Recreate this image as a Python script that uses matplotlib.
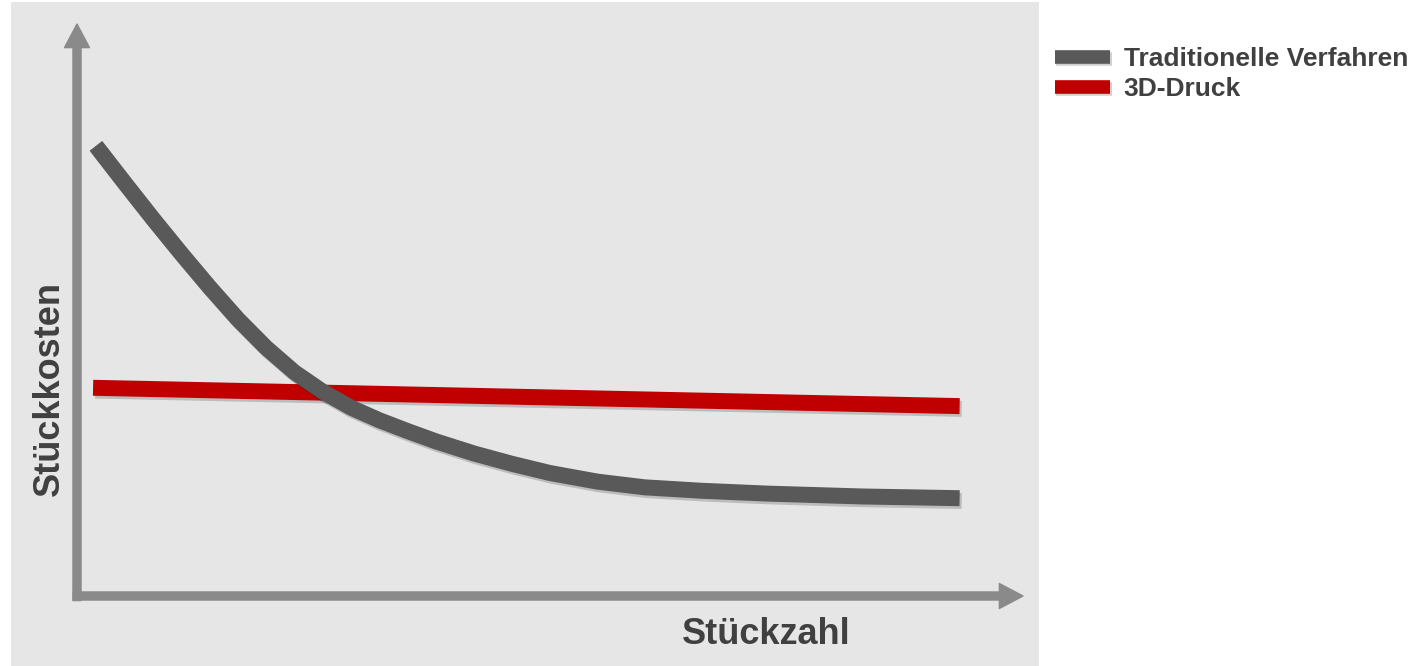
import matplotlib.pyplot as plt
import matplotlib.patheffects as pe
from matplotlib.lines import Line2D
from matplotlib.patches import Rectangle

# Stückzahl (x) and Stückkosten (y), arbitrary units 0..100
stueckzahl = [2, 5, 8, 11, 14, 17, 20, 23, 26, 29, 32, 35, 38, 42, 46, 50,
              55, 60, 66, 73, 83, 93.3]
kosten_traditionell = [78.7, 72.3, 66.0, 59.9, 54.0, 48.4, 43.4, 39.1, 35.7,
                       32.9, 30.7, 28.8, 27.0, 24.9, 23.1, 21.5, 20.0, 19.0,
                       18.4, 17.9, 17.4, 17.1]
stueckzahl_druck = [1.7, 93.3]
kosten_druck = [36.4, 33.2]

labels = ["Traditionelle Verfahren", "3D-Druck"]
colors = ["#595959", "#c00000"]
text_color = "#404040"
axis_color = "#8a8a8a"

plt.rcParams["font.family"] = ["Liberation Sans", "DejaVu Sans"]

W, H = 1424, 666
fig = plt.figure(figsize=(W / 100, H / 100), dpi=100)

# grey panel behind the chart
fig.patches.append(Rectangle((11 / W, 0), 1028 / W, 664 / H,
                             transform=fig.transFigure, facecolor="#e6e6e6",
                             edgecolor="none", zorder=0))

# axes frame spans from the axis corner to the arrow tips
ax = fig.add_axes([77 / W, (H - 596) / H, 946 / W, 572 / H])
ax.set_zorder(2)
ax.set_xlim(0, 100)
ax.set_ylim(0, 100)
ax.set_facecolor("none")
ax.axis("off")

shadow = [pe.SimpleLineShadow(offset=(1.5, -2), shadow_color="#000000",
                              alpha=0.18), pe.Normal()]

ax.plot(stueckzahl_druck, kosten_druck, color=colors[1], lw=11.5,
        solid_capstyle="butt", path_effects=shadow, zorder=3)
ax.plot(stueckzahl, kosten_traditionell, color=colors[0], lw=11.5,
        solid_capstyle="butt", solid_joinstyle="round",
        path_effects=shadow, zorder=4)

# axis arrows
arrow = dict(arrowstyle="simple,head_length=17,head_width=18,tail_width=5.8",
             mutation_scale=1, color=axis_color, shrinkA=0, shrinkB=0)
ax.annotate("", xy=(0, 1), xytext=(0, -0.008), xycoords="axes fraction",
            arrowprops=arrow, annotation_clip=False)
ax.annotate("", xy=(1, 0), xytext=(-0.004, 0), xycoords="axes fraction",
            arrowprops=arrow, annotation_clip=False)

fig.text(766 / W, (H - 634) / H, "Stückzahl", fontsize=26, fontweight="bold",
         color=text_color, ha="center", va="center", zorder=3)
fig.text(49 / W, (H - 388) / H, "Stückkosten", fontsize=26, fontweight="bold",
         color=text_color, ha="center", va="center", rotation=90, zorder=3)

legend_shadow = [pe.SimpleLineShadow(offset=(1, -1.5), shadow_color="#000000",
                                     alpha=0.18), pe.Normal()]
handles = [Line2D([], [], color=c, lw=9.8, solid_capstyle="butt",
                  path_effects=legend_shadow) for c in colors]
leg = fig.legend(handles, labels, loc="upper left",
                 bbox_to_anchor=(1055 / W, (H - 47) / H), frameon=False,
                 prop={"size": 19, "weight": "bold"}, handlelength=2.1,
                 handletextpad=0.5, labelspacing=0.22, borderpad=0,
                 borderaxespad=0)
for t in leg.get_texts():
    t.set_color(text_color)

fig.savefig("out.png", dpi=100)
